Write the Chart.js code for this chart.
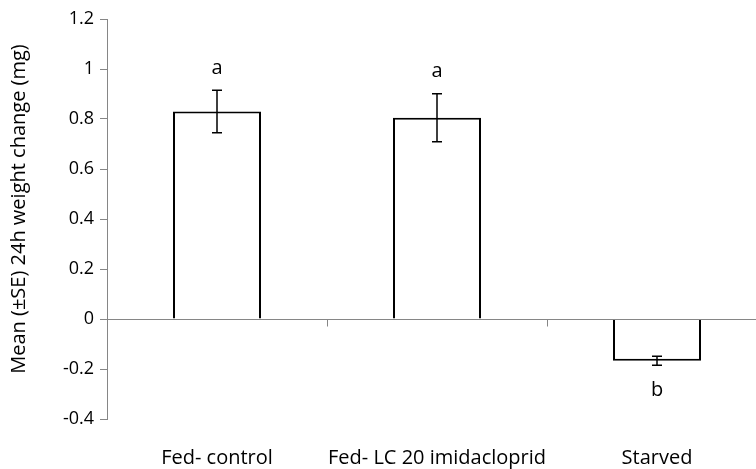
<!DOCTYPE html>
<html>
<head>
<meta charset="utf-8">
<script src="https://cdn.jsdelivr.net/npm/chart.js@4"></script>
<style>
  html, body { margin: 0; padding: 0; background: #fff; overflow: hidden; }
  #wrap { width: 756px; height: 469px; overflow: hidden; }
  canvas { display: block; }
</style>
</head>
<body>
<div id="wrap"><canvas id="c" width="767" height="469"></canvas></div>
<script>
// Treatment groups and their mean 24 h weight change (mg) with standard errors
const categories = ['Fed- control', 'Fed- LC 20 imidacloprid', 'Starved'];
const meanChange = [0.83, 0.805, -0.167];
const seChange = [0.085, 0.096, 0.018];
const groupLetters = ['a', 'a', 'b'];

// Value axis
const yMin = -0.4;
const yMax = 1.2;
const yStep = 0.2;
const yTitle = 'Mean (\u00B1SE) 24h weight change (mg)';

const FONT = '"Open Sans", sans-serif';
const AXIS_GREY = '#868686';
const TEXT = '#000000';

// Error bars, group letters, the zero baseline with its category ticks, and the axis title
const extras = {
  id: 'extras',
  afterDatasetsDraw(chart) {
    const { ctx, chartArea, scales } = chart;
    const x = scales.x, y = scales.y;
    const meta = chart.getDatasetMeta(0);
    ctx.save();

    // zero baseline across the plot with tick marks between categories
    const y0 = Math.round(y.getPixelForValue(0)) + 0.5;
    ctx.strokeStyle = AXIS_GREY;
    ctx.lineWidth = 1;
    ctx.beginPath();
    ctx.moveTo(chartArea.left, y0);
    ctx.lineTo(chartArea.right, y0);
    for (let i = 0; i < categories.length; i++) {
      const bx = Math.round(x.getPixelForValue(i) + x.width / categories.length / 2) + 0.5;
      ctx.moveTo(bx, y0);
      ctx.lineTo(bx, y0 + 7);
    }
    ctx.stroke();

    // error bars
    ctx.strokeStyle = '#000';
    ctx.lineWidth = 1.5;
    meta.data.forEach((bar, i) => {
      const cx = bar.x;
      const hi = y.getPixelForValue(meanChange[i] + seChange[i]);
      const lo = y.getPixelForValue(meanChange[i] - seChange[i]);
      ctx.beginPath();
      ctx.moveTo(cx, hi); ctx.lineTo(cx, lo);
      ctx.moveTo(cx - 5, hi); ctx.lineTo(cx + 5, hi);
      ctx.moveTo(cx - 5, lo); ctx.lineTo(cx + 5, lo);
      ctx.stroke();
    });

    // group letters beyond the error bar ends
    ctx.fillStyle = TEXT;
    ctx.font = '20px ' + FONT;
    ctx.textAlign = 'center';
    ctx.textBaseline = 'middle';
    meta.data.forEach((bar, i) => {
      const v = meanChange[i];
      if (v >= 0) {
        ctx.fillText(groupLetters[i], bar.x, y.getPixelForValue(v + seChange[i]) - 22);
      } else {
        ctx.fillText(groupLetters[i], bar.x, y.getPixelForValue(v - seChange[i]) + 25);
      }
    });

    // rotated value-axis title
    ctx.translate(19, 209);
    ctx.rotate(-Math.PI / 2);
    ctx.fillText(yTitle, 0, 0);
    ctx.restore();
  }
};

new Chart(document.getElementById('c'), {
  type: 'bar',
  data: {
    labels: categories,
    datasets: [{
      data: meanChange,
      backgroundColor: '#ffffff',
      borderColor: '#000000',
      borderWidth: 2,
      barPercentage: 0.4,
      categoryPercentage: 1.0
    }]
  },
  options: {
    responsive: false,
    animation: false,
    events: [],
    layout: { padding: { top: 19, left: 0, right: 0, bottom: 0 } },
    plugins: {
      legend: { display: false },
      tooltip: { enabled: false },
      title: { display: false }
    },
    scales: {
      x: {
        offset: true,
        grid: { display: false },
        border: { display: false },
        ticks: {
          color: TEXT,
          font: { family: FONT, size: 20 },
          padding: 19,
          maxRotation: 0,
          autoSkip: false
        },
        afterFit(scale) { scale.height = 50; }
      },
      y: {
        min: yMin,
        max: yMax,
        grid: {
          display: true,
          drawOnChartArea: false,
          drawTicks: true,
          tickLength: 7,
          color: AXIS_GREY
        },
        border: { display: true, color: AXIS_GREY, width: 1 },
        ticks: {
          stepSize: yStep,
          color: TEXT,
          font: { family: FONT, size: 18 },
          padding: 6,
          callback: (v) => String(Number(v.toFixed(1)))
        },
        afterFit(scale) { scale.width = 107; }
      }
    }
  },
  plugins: [extras]
});
</script>
</body>
</html>
